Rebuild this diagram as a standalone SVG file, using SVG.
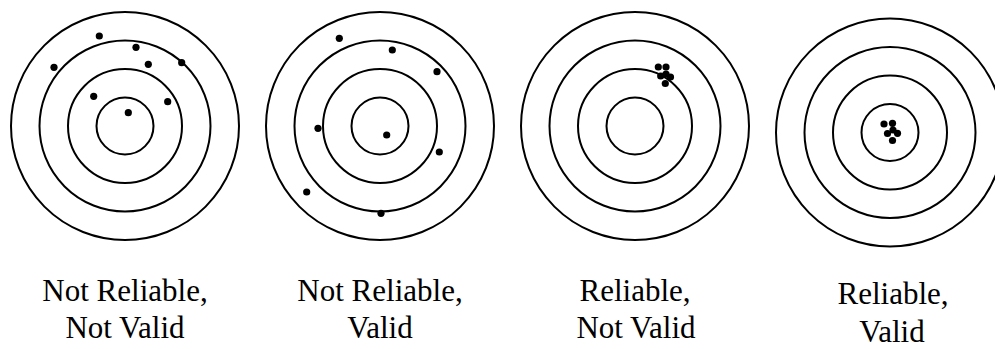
<svg xmlns="http://www.w3.org/2000/svg" width="995" height="349" viewBox="0 0 995 349">
<style>
.ring{fill:none;stroke:#000;stroke-width:2}
.dot{fill:#000}
.lbl{font-family:"Liberation Serif","Times New Roman",serif;font-size:31px;fill:#000;text-anchor:middle}
</style>
<rect width="995" height="349" fill="#fff"/>
<defs>
<g id="target">
<circle class="ring" r="114"/>
<circle class="ring" r="85.5"/>
<circle class="ring" r="57"/>
<circle class="ring" r="28.5"/>
</g>
</defs>
<g id="target1">
<use href="#target" x="125" y="126"/>
<circle class="dot" cx="99.3" cy="36" r="3.6"/>
<circle class="dot" cx="136" cy="47.3" r="3.6"/>
<circle class="dot" cx="54" cy="67.3" r="3.6"/>
<circle class="dot" cx="148.3" cy="64.3" r="3.6"/>
<circle class="dot" cx="181.7" cy="62.7" r="3.6"/>
<circle class="dot" cx="93.7" cy="96.3" r="3.6"/>
<circle class="dot" cx="167.7" cy="101.7" r="3.6"/>
<circle class="dot" cx="128.3" cy="112.7" r="3.6"/>
</g>
<g id="target2">
<use href="#target" x="380" y="126"/>
<circle class="dot" cx="339.3" cy="38.3" r="3.6"/>
<circle class="dot" cx="392.3" cy="50" r="3.6"/>
<circle class="dot" cx="437" cy="71.7" r="3.6"/>
<circle class="dot" cx="318" cy="128.3" r="3.6"/>
<circle class="dot" cx="386.7" cy="135" r="3.6"/>
<circle class="dot" cx="439.3" cy="152" r="3.6"/>
<circle class="dot" cx="306.7" cy="192" r="3.6"/>
<circle class="dot" cx="381" cy="213.3" r="3.6"/>
</g>
<g id="target3">
<use href="#target" x="635" y="126"/>
<circle class="dot" cx="658.3" cy="67" r="3.6"/>
<circle class="dot" cx="666" cy="67" r="3.6"/>
<circle class="dot" cx="660.7" cy="76" r="3.6"/>
<circle class="dot" cx="666" cy="74" r="3.6"/>
<circle class="dot" cx="670.5" cy="77" r="3.6"/>
<circle class="dot" cx="665.3" cy="83.5" r="3.6"/>
</g>
<g id="target4">
<use href="#target" x="890" y="132.5"/>
<circle class="dot" cx="884" cy="124" r="3.6"/>
<circle class="dot" cx="892.5" cy="123.3" r="3.6"/>
<circle class="dot" cx="887.5" cy="133.5" r="3.6"/>
<circle class="dot" cx="893" cy="130" r="3.6"/>
<circle class="dot" cx="897.5" cy="133.3" r="3.6"/>
<circle class="dot" cx="892.5" cy="140.5" r="3.6"/>
</g>
<g id="labels">
<text class="lbl" x="125" y="301" style="font-family:'Liberation Serif','Times New Roman',serif">Not Reliable,</text>
<text class="lbl" x="125" y="338" style="font-family:'Liberation Serif','Times New Roman',serif">Not Valid</text>
<text class="lbl" x="380" y="301" style="font-family:'Liberation Serif','Times New Roman',serif">Not Reliable,</text>
<text class="lbl" x="380" y="338" style="font-family:'Liberation Serif','Times New Roman',serif">Valid</text>
<text class="lbl" x="635" y="301" style="font-family:'Liberation Serif','Times New Roman',serif">Reliable,</text>
<text class="lbl" x="636" y="338" style="font-family:'Liberation Serif','Times New Roman',serif">Not Valid</text>
<text class="lbl" x="893" y="304" style="font-family:'Liberation Serif','Times New Roman',serif">Reliable,</text>
<text class="lbl" x="892" y="342" style="font-family:'Liberation Serif','Times New Roman',serif">Valid</text>
</g>
<g id="connectors"/>
</svg>
